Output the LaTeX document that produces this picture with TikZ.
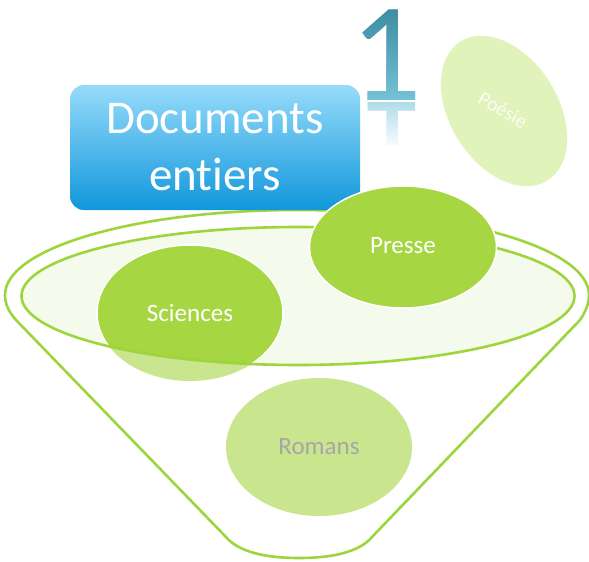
\documentclass[tikz,border=0pt]{standalone}
\usepackage{fontspec}
\setmainfont{Carlito}[Ligatures=NoCommon]
\usetikzlibrary{shapes.geometric,fadings}
\definecolor{vivid}{HTML}{A6D642}
\definecolor{lightg}{HTML}{C9E68F}
\definecolor{paleg}{HTML}{DFF3BA}
\definecolor{innerfill}{HTML}{F4FBEC}
\definecolor{funnelc}{HTML}{9ED43C}
\definecolor{boxtop}{HTML}{96DBFB}
\definecolor{boxbot}{HTML}{1197DA}
\definecolor{onetop}{HTML}{3A8AA0}
\definecolor{onebot}{HTML}{74C3D8}
\definecolor{onerefl}{HTML}{7CC6DA}
\definecolor{romtext}{HTML}{A6A6A6}
\tikzset{
  funnelline/.style={draw=funnelc, line width=2.6pt, line join=round},
  bubble/.style={ellipse, inner sep=0pt, minimum width=186pt, minimum height=136pt},
  vividbubble/.style={bubble, fill=vivid, draw=white, line width=1.5pt},
  boxshape/.style={rectangle, rounded corners=14pt, minimum width=290pt, minimum height=125pt, top color=boxtop, bottom color=boxbot, draw=none, inner sep=0pt},
  boxtext/.style={text=white, font=\fontsize{47}{57}\selectfont, inner sep=0pt},
  bubbletext/.style={text=white, font=\fontsize{25}{30}\selectfont, inner sep=0pt},
  onefont/.style={font=\fontsize{141}{141}\selectfont, inner sep=0pt}
}
\begin{document}
\begin{tikzpicture}[x=1pt,y=-1pt]
\fill[white] (0,0) rectangle (589,562);
\useasboundingbox (0,0) rectangle (589,562);

% funnel outline
\draw[funnelline] (16,320) .. controls (8,311) and (5,303) .. (5,295)
  arc[start angle=180, end angle=360, x radius=292, y radius=85]
  .. controls (589,303) and (586,311) .. (580,320)
  -- (372,537) .. controls (362,549) and (340,558) .. (299,558)
  .. controls (258,558) and (236,549) .. (226,537) -- cycle;

% title box
\node[boxshape] (box) at (215,147.5) {};
\node[boxtext, anchor=base] (t1) at (215,133) {Documents};
\node[boxtext, anchor=base] (t2) at (215,190) {entiers};

% reflection of the digit, faded downwards
\node[onefont, anchor=base, yscale=-1, text=onerefl, opacity=0.6] (refl) at (386,102) {1};
\fill[white, path fading=north] (361,101.5) rectangle (440,150);
\fill[white] (361,146) rectangle (440,196);

% big digit with gradient (lighten blend over the dark glyph)
\node[onefont, anchor=base, text=onetop] (one) at (386,100.5) {1};
\fill[blend mode=lighten, top color=onetop, bottom color=onebot, draw=none] (356,4) rectangle (422,101);

% Poesie
\node[ellipse, inner sep=0pt, minimum width=164pt, minimum height=108pt, fill=paleg, rotate=-58] (poe) at (504,111) {};
\node[text=white, opacity=0.85, font=\fontsize{20}{24}\selectfont, rotate=-30, inner sep=0pt] (poet) at (503,110) {Poésie};

% inner ellipse fill
\fill[innerfill] (298,296) ellipse [x radius=276.5, y radius=69];

% Sciences (two tone)
\node[bubble, fill=lightg] (sci) at (190,313) {};
\begin{scope}
  \clip (298,296) ellipse [x radius=276.5, y radius=69];
  \node[bubble, fill=vivid] (scin) at (190,313) {};
\end{scope}
\begin{scope}
  \clip (298,296) ellipse [x radius=276.5, y radius=69];
  \node[bubble, draw=white, line width=1.5pt] (scib) at (190,313) {};
\end{scope}
\node[bubbletext] (scit) at (190,312.5) {Sciences};

% inner ellipse stroke
\draw[funnelline] (298,296) ellipse [x radius=276.5, y radius=69];

% Presse
\node[vividbubble, minimum width=187pt, minimum height=122pt] (pre) at (403,247) {};
\node[bubbletext] (pret) at (403,246) {Presse};

% Romans
\node[bubble, fill=lightg, minimum height=138pt] (rom) at (319,447) {};
\node[bubbletext, text=romtext] (romt) at (319,446.5) {Romans};
\end{tikzpicture}
\end{document}
